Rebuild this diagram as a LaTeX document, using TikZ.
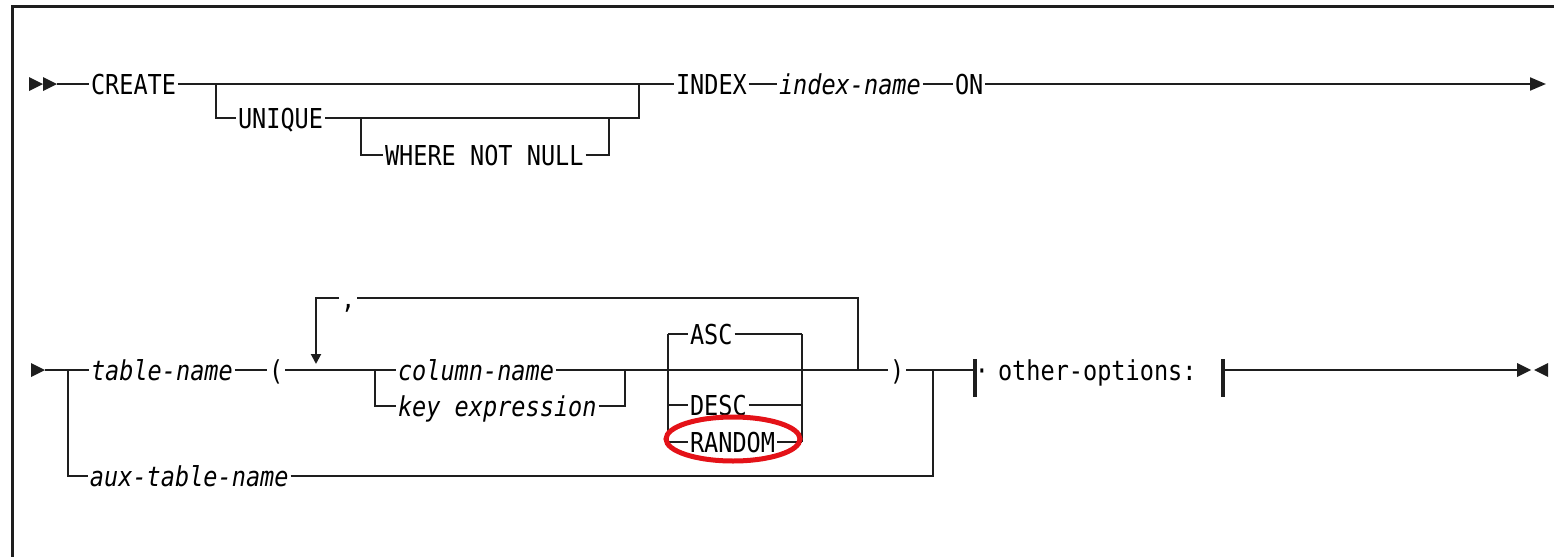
\documentclass[tikz,border=0pt]{standalone}
\usepackage{fontspec}
\usepackage{xcolor}
\usepackage{tikz}
\usetikzlibrary{arrows.meta,positioning}
\newfontfamily\synfont[FakeStretch=0.86]{DejaVu Sans Mono}
\definecolor{synline}{RGB}{30,30,30}
\definecolor{markred}{RGB}{228,18,24}
\tikzset{
  kw/.style={anchor=west,inner xsep=0.5pt,inner ysep=0pt,text height=10pt,text depth=0pt,
             font=\synfont\fontsize{13.7pt}{16pt}\selectfont},
  var/.style={kw,font=\synfont\itshape\fontsize{13.7pt}{16pt}\selectfont},
  stopbar/.style={line width=2pt}
}

\begin{document}
\begin{tikzpicture}[x=0.5pt,y=-0.5pt,line width=1pt,draw=synline]
    \useasboundingbox (0,0) rectangle (1554,557);
    % moldura
    \draw[line width=1.5pt] (1554,6) -- (12,6) -- (12,557);

    % linha 1: CREATE [UNIQUE [WHERE NOT NULL]] INDEX index-name ON
    \fill[synline] (29,77) -- (43,84) -- (29,91) -- cycle;
    \fill[synline] (43,77) -- (57,84) -- (43,91) -- cycle;
    \coordinate (s1) at (57,84);
    \node[kw] (create) at (89,84) {CREATE};
    \node[kw] (unique) at (236,118) {UNIQUE};
    \node[kw] (wnn) at (383,155) {WHERE NOT NULL};
    \node[kw] (index) at (674,84) {INDEX};
    \node[var] (iname) at (777,84) {index-name};
    \node[kw] (on) at (953,84) {ON};
    \coordinate (a1) at (216,84);
    \coordinate (a2) at (639,84);
    \coordinate (b1) at (361,118);
    \coordinate (b2) at (609,118);
    \coordinate (e1) at (1546,84);
    \draw (s1) -- (create.west);
    \draw (create.east) -- (index.west);
    \draw (a1) |- (unique.west);
    \draw (unique.east) -| (a2);
    \draw (b1) |- (wnn.west);
    \draw (wnn.east) -| (b2);
    \draw (index.east) -- (iname.west);
    \draw (iname.east) -- (on.west);
    \draw[-{Triangle[length=8pt,width=6.5pt]}] (on.east) -- (e1);

    % linha 2: table-name ( column-name ... ) other-options
    \fill[synline] (31,363) -- (45,370) -- (31,377) -- cycle;
    \coordinate (s2) at (45,370);
    \node[var] (tname) at (89,370) {table-name};
    \node[kw] (lpar) at (267,370) {(};
    \node[kw] (comma) at (339,298) {,};
    \node[var] (col) at (396,370) {column-name};
    \node[var] (keyx) at (396,406) {key expression};
    \node[kw] (asc) at (688,334) {ASC};
    \node[kw] (desc) at (688,405) {DESC};
    \node[kw] (random) at (688,442) {RANDOM};
    \node[kw] (rpar) at (888,370) {)};
    \node[var] (aux) at (88,476) {aux-table-name};
    \node[kw,anchor=center,inner xsep=0pt] (dot) at (982,370) {·};
    \node[kw] (opts) at (996,370) {other-options:};
    \coordinate (k1) at (68,370);
    \coordinate (k2) at (375,370);
    \coordinate (k3) at (625,370);
    \coordinate (k4) at (858,370);
    \coordinate (k5) at (933,370);
    \coordinate (rep) at (316,298);
    \coordinate (rept) at (316,364);
    \coordinate (repr) at (858,298);
    \coordinate (g1) at (668,334);
    \coordinate (g1b) at (668,442);
    \coordinate (g2) at (802,334);
    \coordinate (g2b) at (802,442);
    \coordinate (bar1) at (975,370);
    \coordinate (bar2) at (1223,370);
    \coordinate (e2) at (1517,370);
    \draw (s2) -- (tname.west);
    \draw (k1) |- (aux.west);
    \draw (tname.east) -- (lpar.west);
    \draw (lpar.east) -- (col.west);
    \draw (k2) |- (keyx.west);
    \draw (col.east) -- (k3);
    \draw (keyx.east) -| (k3);
    \draw (k3) -- (k4) -- (rpar.west);
    \draw (k4) -- (repr) -- (comma.east);
    \draw[-{Triangle[length=5pt,width=5pt]}] (comma.west) -| (rept);
    \draw (g1) -- (g1b);
    \draw (g2) -- (g2b);
    \draw (g1) -- (asc.west);
    \draw (asc.east) -- (g2);
    \draw (g1 |- desc) -- (desc.west);
    \draw (desc.east) -- (g2 |- desc);
    \draw (g1b) -- (random.west);
    \draw (random.east) -- (g2b);
    \draw (rpar.east) -- (bar1);
    \draw (aux.east) -| (k5);
    \draw[stopbar] (bar1) ++(0,-11) -- ++(0,38);
    \draw[stopbar] (bar2) ++(0,-11) -- ++(0,38);
    \draw (bar2) -- (e2);
    \fill[synline] (1517,363) -- (1531,370) -- (1517,377) -- cycle;
    \fill[synline] (1548,363) -- (1534,370) -- (1548,377) -- cycle;

    % marca vermelha
    \draw[markred,line width=2.5pt] (733,439) ellipse [x radius=67,y radius=22];
\end{tikzpicture}
\end{document}
